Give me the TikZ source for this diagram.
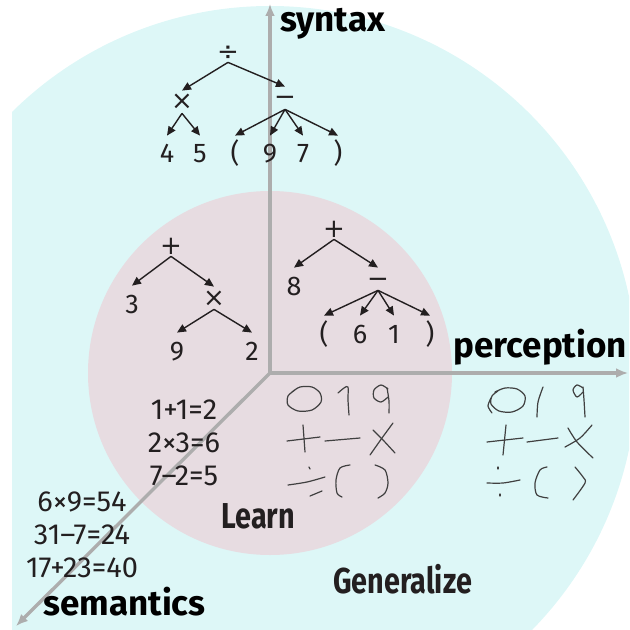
\documentclass[tikz,border=0pt]{standalone}
\usepackage{fontspec}
\setmainfont{Fira Sans}
\newfontfamily\condfont{Fira Sans}[FakeStretch=0.8]
\newfontfamily\opfont{DejaVu Sans}
\usetikzlibrary{arrows.meta}
\definecolor{outercyan}{HTML}{DDF7F7}
\definecolor{innerpink}{HTML}{E7DCE1}
\definecolor{axisgray}{HTML}{ADADAD}
\definecolor{ink}{HTML}{231F20}

\begin{document}
\begin{tikzpicture}[x=0.5pt, y=-0.5pt,
  tok/.style={text=ink, font=\fontsize{13.5}{15}\selectfont, inner xsep=1pt, inner ysep=0.5pt, text height=8pt, text depth=0pt},
  op/.style={tok, font=\opfont\fontsize{13}{15}\selectfont},
  mid/.style={op, inner ysep=1.5pt},
  leaf/.style={tok, inner ysep=5.5pt},
  edge/.style={-{Triangle[length=4.5pt,width=4pt]}, line width=0.7pt, draw=ink},
  axis/.style={-{Latex[length=6pt,width=5pt]}, line width=1.7pt, draw=axisgray},
  axlabel/.style={text=black, font=\bfseries\fontsize{17.5}{19}\selectfont, anchor=base west, inner sep=0pt},
  phase/.style={text=ink, font=\condfont\bfseries\fontsize{18}{20}\selectfont, anchor=base west, inner sep=0pt},
  sums/.style={text=ink, font=\fontsize{14.5}{16.5}\selectfont, align=center},
  hand/.style={line width=0.6pt, draw=black!75, line cap=round, line join=round}]

\useasboundingbox (0,0) rectangle (629,630);

% the two regions
\begin{scope}
\clip (12,0) rectangle (629,630);
\fill[outercyan] (270,373) circle[radius=367];
\end{scope}
\fill[innerpink] (270,373) circle[radius=182];

% axes
\coordinate (O) at (270,373);
\coordinate (synTip) at (270,4);
\coordinate (perTip) at (628,373);
\coordinate (semTip) at (16,626);
\draw[axis] (O) -- (synTip);
\draw[axis] (O) -- (perTip);
\draw[axis] (O) -- (semTip);

\node[axlabel] (syn) at (280,32) {syntax};
\node[axlabel] (per) at (453,357) {perception};
\node[axlabel] (sem) at (43,615) {semantics};

% tree outside
\node[op] (div) at (228,53) {÷};
\node[mid] (mulA) at (182,102) {×};
\node[mid] (subA) at (285,98) {−};
\node[leaf] (four) at (167,155) {4};
\node[leaf] (five) at (200,155) {5};
\node[leaf] (lpA) at (235,155) {(};
\node[leaf] (nineA) at (270,155) {9};
\node[leaf] (seven) at (303,155) {7};
\node[leaf] (rpA) at (338,155) {)};
\draw[edge] (div.south) -- (mulA.north);
\draw[edge] (div.south) -- (subA.north);
\draw[edge] (mulA.south) -- (four.north);
\draw[edge] (mulA.south) -- (five.north);
\draw[edge] (subA.south) -- (lpA.north);
\draw[edge] (subA.south) -- (nineA.north);
\draw[edge] (subA.south) -- (seven.north);
\draw[edge] (subA.south) -- (rpA.north);

% tree inside, left
\node[op] (addB) at (171,247) {+};
\node[leaf] (three) at (132,305) {3};
\node[mid] (mulB) at (214,298) {×};
\node[leaf] (nineB) at (177,352) {9};
\node[leaf] (two) at (252,352) {2};
\draw[edge] (addB.south) -- (three.north);
\draw[edge] (addB.south) -- (mulB.north);
\draw[edge] (mulB.south) -- (nineB.north);
\draw[edge] (mulB.south) -- (two.north);

% tree inside, right
\node[op] (addC) at (334,230) {+};
\node[leaf] (eight) at (294,287) {8};
\node[mid] (subC) at (378,279) {−};
\node[leaf] (lpC) at (324,335) {(};
\node[leaf] (six) at (360,335) {6};
\node[leaf] (one) at (394,335) {1};
\node[leaf] (rpC) at (430,335) {)};
\draw[edge] (addC.south) -- (eight.north);
\draw[edge] (addC.south) -- (subC.north);
\draw[edge] (subC.south) -- (lpC.north);
\draw[edge] (subC.south) -- (six.north);
\draw[edge] (subC.south) -- (one.north);
\draw[edge] (subC.south) -- (rpC.north);

% equations
\node[sums] (seen) at (184,443) {1+1=2\\2×3=6\\7–2=5};
\node[sums] (unseen) at (82,535) {6×9=54\\31–7=24\\17+23=40};

\node[phase] (learn) at (221,528) {Learn};
\node[phase] (gen) at (333,593) {Generalize};

% handwriting, inside
\draw[hand] plot[smooth] coordinates {(292,392) (300,387) (312,387) (320,393) (321,402) (312,410) (298,411) (288,405) (288,396) (295,390)};
\draw[hand] plot[smooth] coordinates {(338,393) (344,388) (348,387) (348,400) (349,415)};
\draw[hand] plot[smooth] coordinates {(388,389) (381,385) (374,390) (374,398) (381,402) (388,397)};
\draw[hand] plot[smooth] coordinates {(387,388) (389,401) (389,413)};
\draw[hand] (287,441) -- (320,437);
\draw[hand] (303,425) -- (305,452);
\draw[hand] (325,441) -- (360,438);
\draw[hand] plot[smooth] coordinates {(370,455) (382,438) (393,423)};
\draw[hand] plot[smooth] coordinates {(373,430) (383,440) (395,453)};
\draw[hand] (309,467) -- (310,469);
\draw[hand] plot[smooth] coordinates {(288,485) (307,482) (325,477)};
\draw[hand] (310,496) -- (322,491);
\draw[hand] plot[smooth] coordinates {(350,465) (340,468) (336,480) (337,493) (342,497)};
\draw[hand] plot[smooth] coordinates {(375,465) (385,470) (388,483) (385,493) (378,498)};

% handwriting, outside
\draw[hand] plot[smooth] coordinates {(495,392) (505,388) (517,389) (525,396) (523,406) (512,412) (499,411) (491,404) (492,396) (498,391)};
\draw[hand] plot[smooth] coordinates {(491,398) (488,406) (492,413)};
\draw[hand] plot[smooth] coordinates {(537,417) (538,402) (543,387)};
\draw[hand] plot[smooth] coordinates {(583,388) (577,385) (573,390) (577,397) (583,392)};
\draw[hand] plot[smooth] coordinates {(583,387) (584,400) (585,417)};
\draw[hand] (487,442) -- (523,438);
\draw[hand] (506,425) -- (503,455);
\draw[hand] (527,442) -- (558,438);
\draw[hand] plot[smooth] coordinates {(565,447) (580,438) (592,425)};
\draw[hand] plot[smooth] coordinates {(568,428) (577,442) (593,458)};
\draw[hand] (498,467) -- (498,469);
\draw[hand] plot[smooth] coordinates {(487,483) (503,483) (520,480)};
\draw[hand] (500,494) -- (500,496);
\draw[hand] plot[smooth] coordinates {(547,467) (540,470) (535,483) (537,495) (548,498)};
\draw[hand] plot[smooth] coordinates {(575,467) (583,477) (585,483) (573,500)};
\end{tikzpicture}
\end{document}
